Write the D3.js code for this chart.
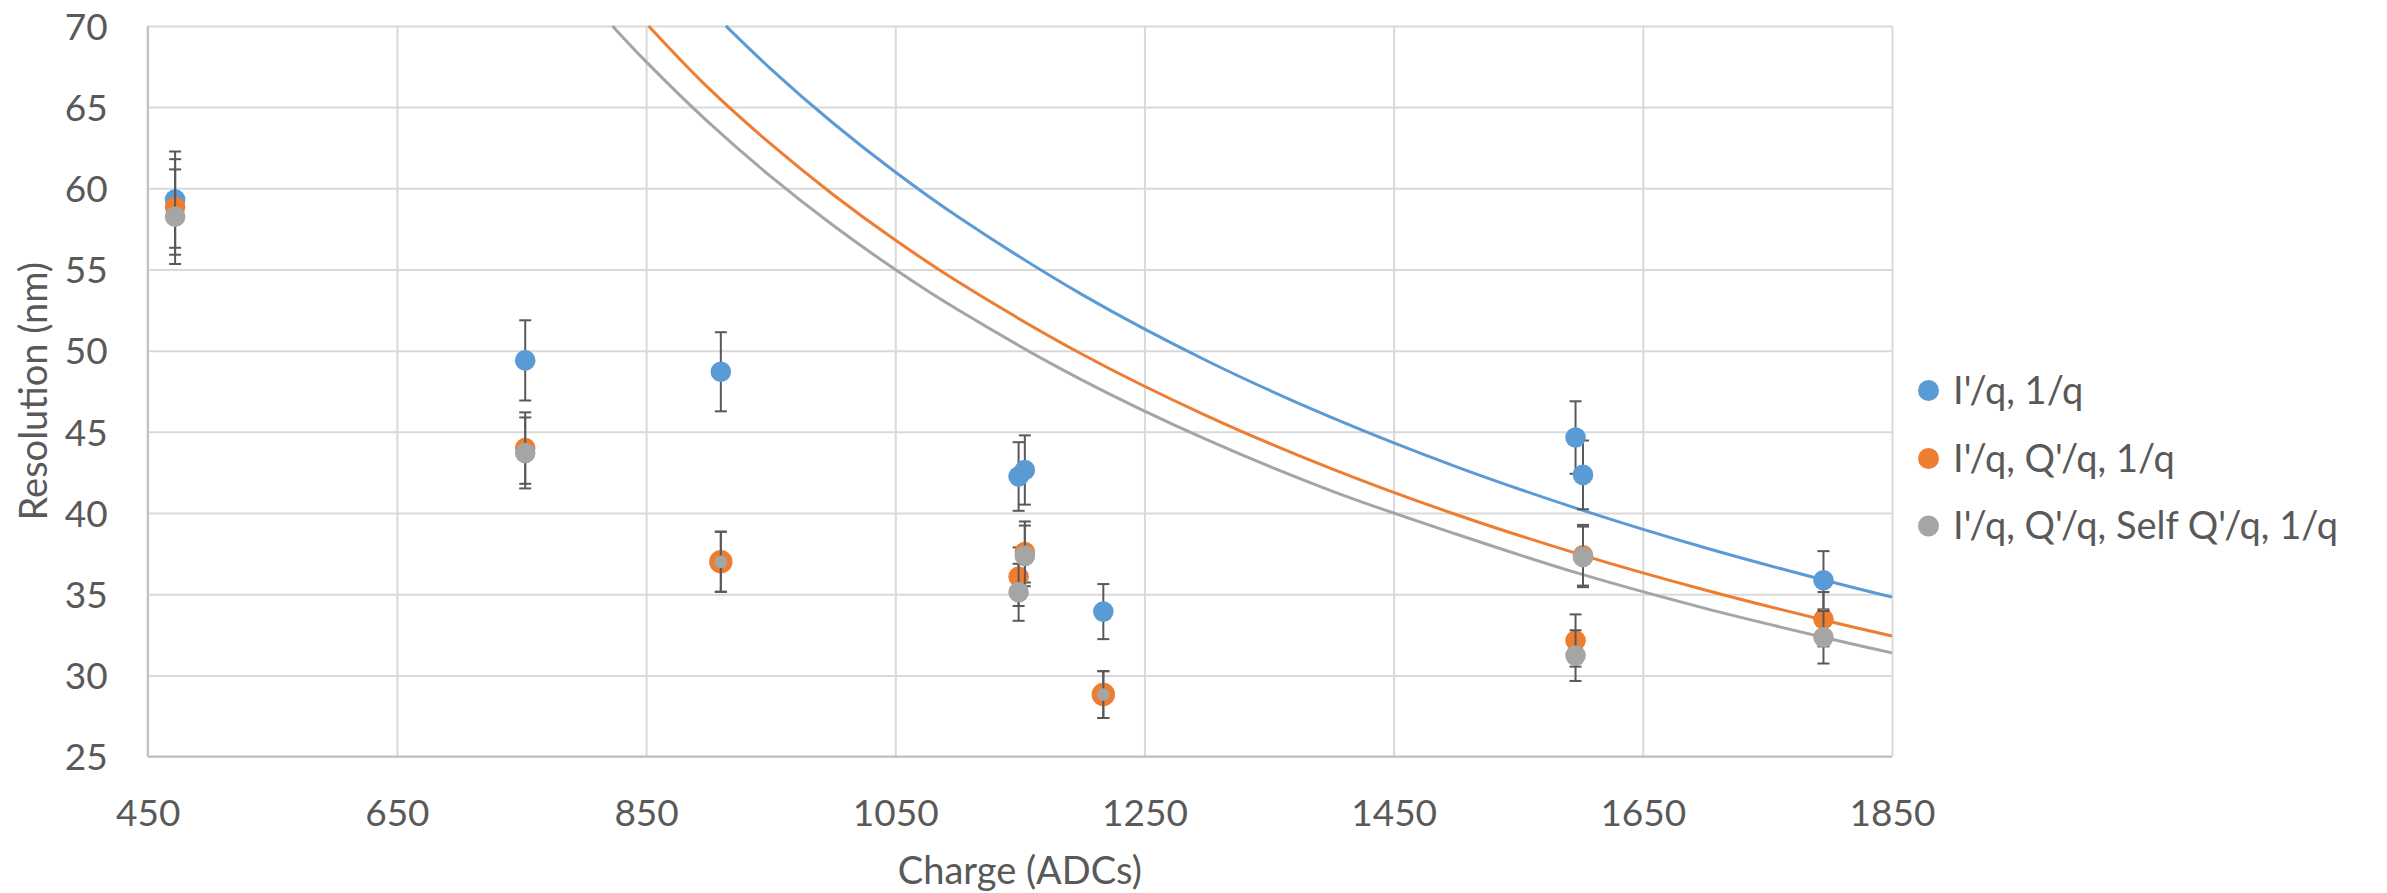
<!DOCTYPE html>
<html>
<head>
<meta charset="utf-8">
<script src="https://cdn.jsdelivr.net/npm/d3@7/dist/d3.min.js"></script>
<style>
  html, body { margin: 0; padding: 0; background: #fff; }
  svg text { font-family: Lato, "Open Sans", sans-serif; fill: #595959; }
</style>
</head>
<body>
<script>
// --- data ---
var seriesNames = ["I'/q, 1/q", "I'/q, Q'/q, 1/q", "I'/q, Q'/q, Self Q'/q, 1/q"];
var colors = ['#5B9BD5', '#ED7D31', '#A5A5A5'];

var charge = [472, 753, 910, 1149, 1154, 1217, 1596, 1602, 1795];
var resIq     = [59.3, 49.4, 48.7, 42.25, 42.65, 33.93, 44.65, 42.35, 35.86];
var resIqQq   = [58.85, 44.0, 37.0, 36.08, 37.6, 28.82, 32.15, 37.4, 33.46];
var resIqQqSq = [58.25, 43.7, 37.0, 35.12, 37.36, 28.82, 31.22, 37.3, 32.35];
var errPct = 0.05; // error bars: 5 % of value

// fitted 1/q curves
var curveX1 = [914, 950, 1000, 1050, 1100, 1200, 1300, 1400, 1500, 1600, 1700, 1800, 1850];
var curveY1 = [70, 67.36, 64.02, 61.0, 58.26, 53.45, 49.38, 45.89, 42.86, 40.21, 37.86, 35.78, 34.82];
var curveX2 = [852, 900, 950, 1000, 1050, 1100, 1200, 1300, 1400, 1500, 1600, 1700, 1800, 1850];
var curveY2 = [70, 66.18, 62.73, 59.62, 56.81, 54.26, 49.78, 45.99, 42.74, 39.91, 37.44, 35.26, 33.32, 32.43];
var curveX3 = [823, 850, 900, 950, 1000, 1050, 1100, 1200, 1300, 1400, 1500, 1600, 1700, 1800, 1850];
var curveY3 = [70, 67.8, 64.07, 60.73, 57.72, 55.0, 52.53, 48.19, 44.52, 41.37, 38.71, 36.25, 34.13, 32.26, 31.39];

var xTicks = [450, 650, 850, 1050, 1250, 1450, 1650, 1850];
var yTicks = [25, 30, 35, 40, 45, 50, 55, 60, 65, 70];

// --- layout ---
var W = 2387, H = 893;
var mLeft = 147.7, mRight = 1892, mTop = 25.9, mBottom = 756.6;

var svg = d3.select('body').append('svg')
    .attr('width', W)
    .attr('height', H);

svg.append('rect').attr('width', W).attr('height', H).attr('fill', '#fff');

var x = d3.scaleLinear().domain([450, 1850]).range([mLeft, mRight]);
var y = d3.scaleLinear().domain([25, 70]).range([mBottom, mTop]);

// gridlines + tick labels
var yAxis = svg.append('g')
    .attr('transform', 'translate(' + mLeft + ',0)')
    .call(d3.axisLeft(y).tickValues(yTicks).tickSize(-(mRight - mLeft)).tickPadding(40)
      .tickFormat(d3.format('d')));
var xAxis = svg.append('g')
    .attr('transform', 'translate(0,' + mBottom + ')')
    .call(d3.axisBottom(x).tickValues(xTicks).tickSize(-(mBottom - mTop)).tickPadding(43)
      .tickFormat(d3.format('d')));

[xAxis, yAxis].forEach(function(g) {
  g.select('.domain').remove();
  g.selectAll('.tick line').attr('stroke', '#d9d9d9').attr('stroke-width', 2);
  g.selectAll('.tick text').style('font-size', '37px').attr('fill', '#595959');
});
yAxis.selectAll('.tick text').attr('dy', '0.36em');

// axis lines
svg.append('line').attr('x1', mLeft).attr('x2', mLeft).attr('y1', mTop).attr('y2', mBottom)
    .attr('stroke', '#bfbfbf').attr('stroke-width', 2);
svg.append('line').attr('x1', mLeft).attr('x2', mRight).attr('y1', mBottom).attr('y2', mBottom)
    .attr('stroke', '#bfbfbf').attr('stroke-width', 2);

// axis titles
svg.append('text')
    .attr('x', (mLeft + mRight) / 2).attr('y', 884)
    .attr('text-anchor', 'middle')
    .style('font-size', '38px')
    .text('Charge (ADCs)');
svg.append('text')
    .attr('transform', 'translate(47,' + (mTop + mBottom) / 2 + ') rotate(-90)')
    .attr('text-anchor', 'middle')
    .style('font-size', '38px')
    .text('Resolution (nm)');

// curves
var line = d3.line()
    .x(function(d) { return x(d[0]); })
    .y(function(d) { return y(d[1]); })
    .curve(d3.curveCatmullRom);

var curves = [[curveX1, curveY1], [curveX2, curveY2], [curveX3, curveY3]];
var plot = svg.append('g');
curves.forEach(function(c, i) {
  plot.append('path')
      .datum(d3.zip(c[0], c[1]))
      .attr('d', line)
      .attr('fill', 'none')
      .attr('stroke', colors[i])
      .attr('stroke-width', 3);
});

// points with error bars, series by series
var series = [resIq, resIqQq, resIqQqSq];
var cap = 6;
series.forEach(function(vals, i) {
  var pts = d3.zip(charge, vals);
  var g = plot.append('g');
  var eb = g.selectAll('g.eb').data(pts).enter().append('g').attr('class', 'eb')
      .attr('stroke', '#595959').attr('stroke-width', 2);
  eb.append('line')
      .attr('x1', function(d) { return x(d[0]); })
      .attr('x2', function(d) { return x(d[0]); })
      .attr('y1', function(d) { return y(d[1] * (1 + errPct)); })
      .attr('y2', function(d) { return y(d[1] * (1 - errPct)); });
  [1 + errPct, 1 - errPct].forEach(function(f) {
    eb.append('line')
        .attr('x1', function(d) { return x(d[0]) - cap; })
        .attr('x2', function(d) { return x(d[0]) + cap; })
        .attr('y1', function(d) { return y(d[1] * f); })
        .attr('y2', function(d) { return y(d[1] * f); });
  });
  g.selectAll('circle').data(pts).enter().append('circle')
      .attr('cx', function(d) { return x(d[0]); })
      .attr('cy', function(d) { return y(d[1]); })
      .attr('r', function(d, j) {
        // where the last two series sit on the same spot the orange ring shows round a small grey dot
        var same = Math.abs(resIqQq[j] - resIqQqSq[j]) < 0.01;
        if (same && i === 1) return 11.7;
        if (same && i === 2) return 6.3;
        return 10.3;
      })
      .attr('fill', colors[i]);
});

// legend
var legend = svg.append('g');
var legY = [390.5, 458.5, 526];
seriesNames.forEach(function(name, i) {
  legend.append('circle')
      .attr('cx', 1928.5).attr('cy', legY[i]).attr('r', 10.5)
      .attr('fill', colors[i]);
  legend.append('text')
      .attr('x', 1953).attr('y', legY[i] + 13)
      .style('font-size', '38px')
      .text(name);
});
</script>
</body>
</html>
